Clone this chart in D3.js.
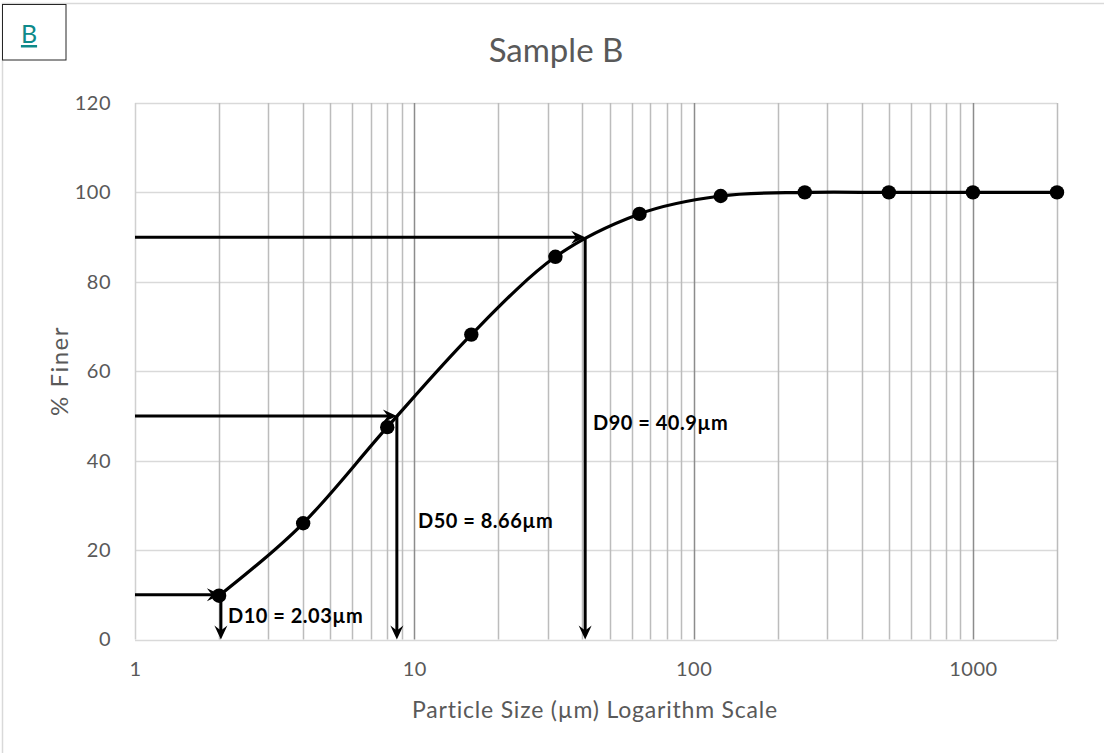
<!DOCTYPE html>
<html>
<head>
<meta charset="utf-8">
<script src="https://cdn.jsdelivr.net/npm/d3@7"></script>
<style>
  html, body { margin: 0; padding: 0; background: #fff; }
  svg { display: block; font-family: Lato, "Open Sans", sans-serif; }
</style>
</head>
<body>
<svg id="chart" width="1104" height="753"></svg>
<script>
// ---- data ----
const sizes = [2, 4, 8, 16, 32, 64, 125, 250, 500, 1000, 2000];
const finer = [9.8, 26.0, 47.5, 68.2, 85.6, 95.2, 99.2, 100, 100, 100, 100];
const dLabels = ["D10 = 2.03µm", "D50 = 8.66µm", "D90 = 40.9µm"];
const dValues = [2.03, 8.66, 40.9];
const dPercents = [10, 50, 90];
const xTickValues = [1, 10, 100, 1000];
const yTickValues = [0, 20, 40, 60, 80, 100, 120];
const title = "Sample B";
const xTitle = "Particle Size (µm) Logarithm Scale";
const yTitle = "% Finer";
const panelLabel = "B";

const svg = d3.select("#chart");
const plot = { left: 135, right: 1057, top: 103, bottom: 639.5 };

const x = d3.scaleLog().domain([1, 2000]).range([plot.left, plot.right]);
const y = d3.scaleLinear().domain([0, 120]).range([plot.bottom, plot.top]);

// outer chart border
svg.append("rect").attr("x", 2.5).attr("y", 3.5).attr("width", 1300).attr("height", 1000)
  .attr("fill", "none").attr("stroke", "#d9d9d9").attr("stroke-width", 1.5);

// panel label box
svg.append("rect").attr("x", 2.5).attr("y", 4.5).attr("width", 63.5).attr("height", 55.5)
  .attr("fill", "#fff").attr("stroke", "#262626").attr("stroke-width", 1);
svg.append("text").attr("x", 29).attr("y", 43).attr("text-anchor", "middle")
  .attr("font-size", 25).attr("fill", "#0e8a8a").attr("text-decoration", "underline").text(panelLabel);

// title
svg.append("text").attr("x", 556).attr("y", 62).attr("text-anchor", "middle")
  .attr("font-size", 33).attr("fill", "#595959").text(title);

// gridlines - horizontal
const g = svg.append("g");
g.selectAll("line.hgrid").data(yTickValues).enter().append("line")
  .attr("x1", plot.left).attr("x2", plot.right)
  .attr("y1", d => Math.round(y(d)) + 0.5).attr("y2", d => Math.round(y(d)) + 0.5)
  .attr("stroke", "#d9d9d9").attr("stroke-width", 1.5);

// vertical gridlines (minor + major)
const minor = [];
for (let dec = 1; dec <= 1000; dec *= 10) {
  for (let k = 2; k <= 9; k++) { const v = dec * k; if (v <= 2000) minor.push(v); }
}
g.selectAll("line.minor").data(minor).enter().append("line")
  .attr("x1", d => Math.round(x(d)) + 0.5).attr("x2", d => Math.round(x(d)) + 0.5)
  .attr("y1", plot.top).attr("y2", plot.bottom)
  .attr("stroke", "#bcbcbc").attr("stroke-width", 1.5);
g.selectAll("line.major").data([10, 100, 1000]).enter().append("line")
  .attr("x1", d => Math.round(x(d)) + 0.5).attr("x2", d => Math.round(x(d)) + 0.5)
  .attr("y1", plot.top).attr("y2", plot.bottom)
  .attr("stroke", "#8c8c8c").attr("stroke-width", 1.5);
// left edge
g.append("line").attr("x1", plot.left + 0.5).attr("x2", plot.left + 0.5)
  .attr("y1", plot.top).attr("y2", plot.bottom).attr("stroke", "#d0d0d0").attr("stroke-width", 1.5);

// axes (labels only)
const xAxis = d3.axisBottom(x).tickValues(xTickValues).tickFormat(d3.format("d")).tickSize(0).tickPadding(22);
const xg = svg.append("g").attr("transform", `translate(0,${plot.bottom})`).call(xAxis);
xg.select(".domain").remove();
xg.selectAll("text").attr("font-family", "Lato, sans-serif").attr("font-size", 20)
  .attr("letter-spacing", 0.5).attr("fill", "#595959");

const yAxis = d3.axisLeft(y).tickValues(yTickValues).tickSize(0).tickPadding(24);
const yg = svg.append("g").attr("transform", `translate(${plot.left},0)`).call(yAxis);
yg.select(".domain").remove();
yg.selectAll("text").attr("font-family", "Lato, sans-serif").attr("font-size", 20)
  .attr("letter-spacing", 0.5).attr("fill", "#595959");

// axis titles
svg.append("text").attr("x", 595).attr("y", 718).attr("text-anchor", "middle")
  .attr("font-size", 23).attr("letter-spacing", 0.8).attr("fill", "#595959").text(xTitle);
svg.append("text").attr("transform", `translate(68,371) rotate(-90)`).attr("text-anchor", "middle")
  .attr("font-size", 24).attr("letter-spacing", 1.5).attr("fill", "#595959").text(yTitle);

// arrows
const arrowLen = 14, arrowHalf = 6.5, notch = 9;
function arrowHead(tx, ty, angle) {
  svg.append("path")
    .attr("d", `M0,0 L${-arrowLen},${-arrowHalf} L${-notch},0 L${-arrowLen},${arrowHalf} Z`)
    .attr("transform", `translate(${tx},${ty}) rotate(${angle})`)
    .attr("fill", "#000");
}
dValues.forEach((dv, i) => {
  const tx = x(dv), ty = y(dPercents[i]);
  svg.append("line").attr("x1", x(1)).attr("x2", tx - 8).attr("y1", ty).attr("y2", ty)
    .attr("stroke", "#000").attr("stroke-width", 3);
  arrowHead(tx, ty, 0);
  svg.append("line").attr("x1", tx).attr("x2", tx).attr("y1", ty).attr("y2", y(0) - 8)
    .attr("stroke", "#000").attr("stroke-width", 3);
  arrowHead(tx, y(0), 90);
});

// curve
const pts = sizes.map((s, i) => [x(s), y(finer[i])]);
svg.append("path").attr("d", d3.line().curve(d3.curveCardinal.tension(0))(pts))
  .attr("fill", "none").attr("stroke", "#000").attr("stroke-width", 3.2);
svg.selectAll("circle.pt").data(pts).enter().append("circle")
  .attr("cx", d => d[0]).attr("cy", d => d[1]).attr("r", 7.2).attr("fill", "#000");

// D labels
const labelPos = [[228, 623], [418, 528], [593, 430]];
dLabels.forEach((t, i) => {
  svg.append("text").attr("x", labelPos[i][0]).attr("y", labelPos[i][1])
    .attr("font-size", 20).attr("letter-spacing", 0.5).attr("font-weight", "bold")
    .attr("fill", "#000").text(t);
});
</script>
</body>
</html>
